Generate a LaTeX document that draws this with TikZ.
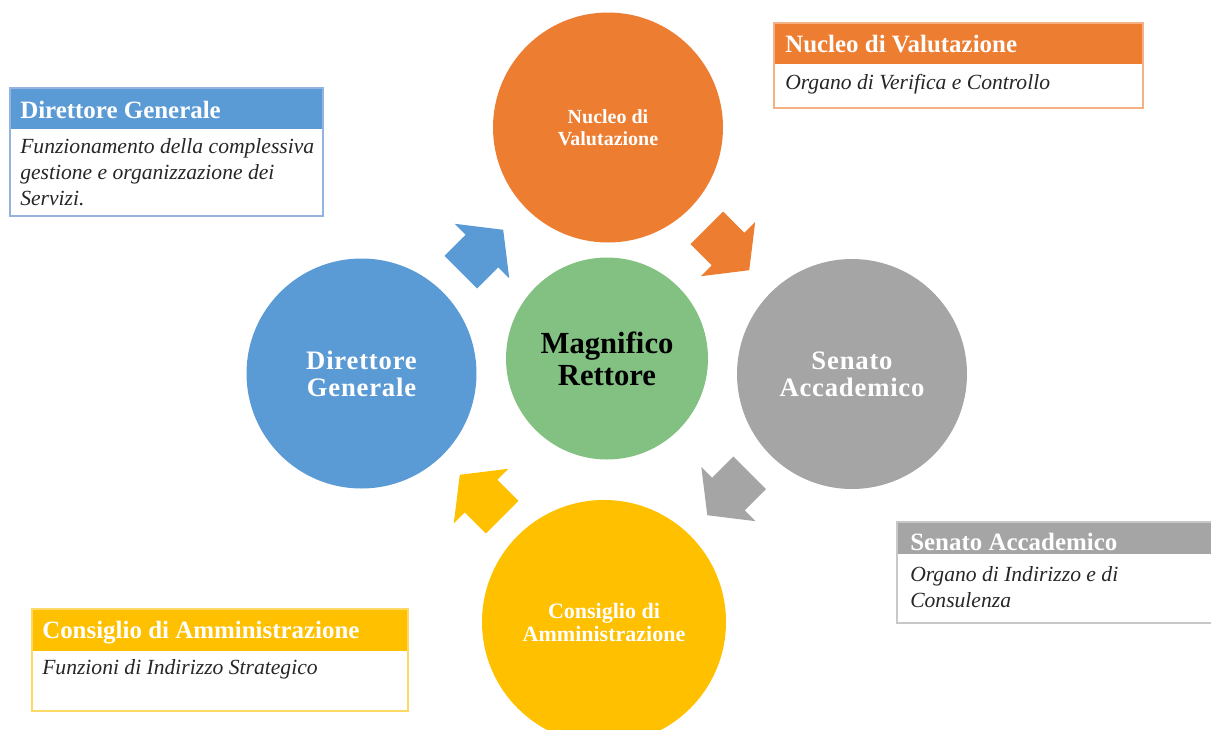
\documentclass[tikz,border=0pt]{standalone}
\usepackage{fontspec}
\setmainfont{Liberation Serif}
\definecolor{dgblue}{HTML}{5B9BD5}
\definecolor{nvorange}{HTML}{ED7D31}
\definecolor{sagray}{HTML}{A5A5A5}
\definecolor{cayellow}{HTML}{FFC000}
\definecolor{mrgreen}{HTML}{82C182}
\definecolor{dgline}{HTML}{95B3E0}
\definecolor{nvline}{HTML}{F4B183}
\definecolor{saline}{HTML}{C8C8C8}
\definecolor{caline}{HTML}{FFD966}
\tikzset{
  ring/.style={circle,inner sep=0pt,minimum size=172.5pt,align=center,text=white},
  headtxt/.style={inner sep=0pt,anchor=base west,text=white,font=\fontsize{18.7}{22}\selectfont\bfseries},
  bodytxt/.style={inner sep=0pt,anchor=base west,align=left,text=black!85,font=\fontsize{16.2}{19.5}\selectfont\itshape},
  boxline/.style={line width=1.1pt}
}
\begin{document}
\begin{tikzpicture}[x=0.75pt,y=-0.75pt]
\path[use as bounding box,clip] (0,0) rectangle (1211,729);
% circles
\node[ring,fill=nvorange,font=\fontsize{15}{16.5}\selectfont\bfseries] (nucleo) at (608,127.5) {Nucleo di\\Valutazione};
\node[ring,fill=dgblue,font=\fontsize{20}{20.25}\selectfont\bfseries\addfontfeature{LetterSpace=3}] (direttore) at (361.5,373.5) {Direttore\\Generale};
\node[ring,fill=sagray,font=\fontsize{20}{20.25}\selectfont\bfseries\addfontfeature{LetterSpace=3}] (senato) at (852,374) {Senato\\Accademico};
\node[ring,fill=cayellow,minimum size=183pt,font=\fontsize{16.5}{17.25}\selectfont\bfseries] (consiglio) at (604,622) {Consiglio di\\Amministrazione};
\node[ring,fill=mrgreen,minimum size=151.5pt,text=black,font=\fontsize{23}{24}\selectfont\bfseries] (rettore) at (607,358.5) {Magnifico\\Rettore};
% block arrows, clockwise
\foreach \cx/\cy/\ang/\col in {482/251/45/dgblue,728/249/-45/nvorange,728.5/494/-135/sagray,481/496/135/cayellow}{
  \fill[\col,shift={(\cx,\cy)},rotate=\ang] (-30,-23) -- (0,-23) -- (0,-38.5) -- (30,0) -- (0,38.5) -- (0,23) -- (-30,23) -- cycle;
}
% Direttore Generale box
\fill[dgblue] (10,88) rectangle (323,129);
\draw[boxline,dgline] (10,88) rectangle (323,216);
\node[headtxt] (dghead) at (20,118) {Direttore Generale};
\node[bodytxt] (dgbody) at (20,205) {Funzionamento della complessiva\\gestione e organizzazione dei\\Servizi.};
% Nucleo di Valutazione box
\fill[nvorange] (774,23) rectangle (1143,64);
\draw[boxline,nvline] (774,23) rectangle (1143,108);
\node[headtxt] (nvhead) at (785,52) {Nucleo di Valutazione};
\node[bodytxt] (nvbody) at (785,89) {Organo di Verifica e Controllo};
% Senato Accademico box
\fill[sagray] (897,522) rectangle (1220,554);
\draw[boxline,saline] (897,522) rectangle (1220,623);
\node[headtxt] (sahead) at (910,550) {Senato Accademico};
\node[bodytxt] (sabody) at (910,607) {Organo di Indirizzo e di\\Consulenza};
% Consiglio di Amministrazione box
\fill[cayellow] (32,609) rectangle (408,651);
\draw[boxline,caline] (32,609) rectangle (408,711);
\node[headtxt] (cahead) at (42,638) {Consiglio di Amministrazione};
\node[bodytxt] (cabody) at (42,674) {Funzioni di Indirizzo Strategico};
\end{tikzpicture}
\end{document}
